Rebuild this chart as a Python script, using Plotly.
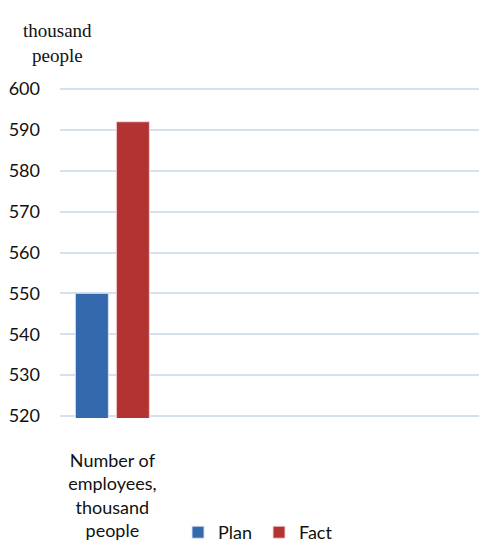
import plotly.graph_objects as go

categories = [0, 1, 2, 3]
tick_labels = ["Number of<br>employees,<br>thousand<br>people", "", "", ""]
plan_values = [550, None, None, None]
fact_values = [592, None, None, None]
series_names = ["Plan", "Fact"]
y_ticks = [520, 530, 540, 550, 560, 570, 580, 590, 600]

fig = go.Figure()
fig.add_trace(go.Bar(x=categories, y=plan_values, name=series_names[0],
                     marker=dict(color="#3469AE", line=dict(color="rgba(220,230,245,0.9)", width=1))))
fig.add_trace(go.Bar(x=categories, y=fact_values, name=series_names[1],
                     marker=dict(color="#B23331", line=dict(color="rgba(245,220,220,0.9)", width=1))))

fig.update_layout(
    width=479, height=545, autosize=False,
    margin=dict(l=60, r=0, t=87, b=127, autoexpand=False),
    paper_bgcolor="white", plot_bgcolor="white",
    barmode="group", bargap=0.217, bargroupgap=0.195,
    font=dict(family="Lato, Carlito, sans-serif", size=18, color="#111111"),
    showlegend=True,
    legend=dict(orientation="h", xanchor="center", x=0.475, y=-(551 - 418) / 331,
                yanchor="bottom", font=dict(size=18), itemwidth=30, traceorder="normal",
                entrywidth=36, entrywidthmode="pixels"),
    xaxis=dict(tickmode="array", tickvals=categories, ticktext=tick_labels,
               range=[-0.5, 3.5], showgrid=False, zeroline=False, showline=False,
               ticks="", ticklabelstandoff=30, automargin=False),
    yaxis=dict(range=[519.5, 600.5], tickvals=y_ticks, showgrid=True, gridcolor="#D6E1EF",
               gridwidth=2, zeroline=False, showline=False, ticks="", ticklabelstandoff=19,
               automargin=False),
    annotations=[dict(text="thousand<br>people", xref="paper", yref="paper",
                      x=-3 / 419, y=1 + 44 / 331, xanchor="center", yanchor="middle",
                      showarrow=False,
                      font=dict(family="Liberation Serif, Times New Roman, serif", size=19,
                                color="#111111"))],
)

fig.write_html("out.html", config={"responsive": False, "displayModeBar": False},
               post_script="document.body.style.margin='0';document.body.style.overflow='hidden';")
